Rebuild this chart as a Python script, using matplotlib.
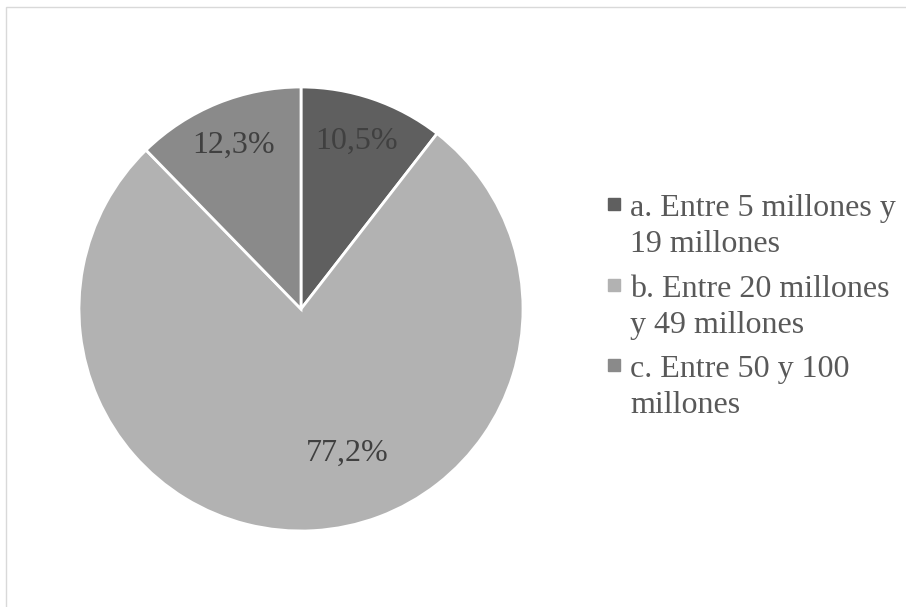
import matplotlib
matplotlib.use("Agg")
import matplotlib.pyplot as plt
from matplotlib.patches import Rectangle

categories = ["a. Entre 5 millones y\n19 millones",
              "b. Entre 20 millones\ny 49 millones",
              "c. Entre 50 y 100\nmillones"]
values = [10.5, 77.2, 12.3]
labels = ["10,5%", "77,2%", "12,3%"]
colors = ["#5f5f5f", "#b2b2b2", "#8a8a8a"]

plt.rcParams['font.family'] = ['Liberation Serif', 'DejaVu Serif']

W, H = 906, 607
fig = plt.figure(figsize=(W / 100, H / 100), dpi=100)
fig.patches.append(Rectangle((6 / W, -0.1), 1.2, (600 / H) + 0.1, transform=fig.transFigure,
                             fill=False, edgecolor="#d9d9d9", linewidth=1.0))

cx, cy, r = 301, 309, 222
ax = fig.add_axes([(cx - r) / W, (H - cy - r) / H, 2 * r / W, 2 * r / H])
wedges, _ = ax.pie(values, colors=colors, startangle=90, counterclock=False,
                   wedgeprops=dict(edgecolor="white", linewidth=2.0))
ax.set_xlim(-1, 1)
ax.set_ylim(-1, 1)
ax.set_aspect("equal")

label_pos = [(0.252, 0.755), (0.207, -0.650), (-0.302, 0.738)]
for (x, y), t in zip(label_pos, labels):
    ax.text(x, y, t, ha="center", va="center", fontsize=23, color="#404040")

# legend
baselines = [216, 297, 377]
line_gap = 36
for yb, c, cat in zip(baselines, colors, categories):
    fig.patches.append(Rectangle((608 / W, 1 - (yb - 6) / H), 12 / W, 12 / H,
                                 transform=fig.transFigure, color=c))
    for i, line in enumerate(cat.split("\n")):
        fig.text(630 / W, 1 - (yb + i * line_gap) / H, line, ha="left", va="baseline",
                 fontsize=23, color="#595959")

fig.savefig("out.png", dpi=100)
